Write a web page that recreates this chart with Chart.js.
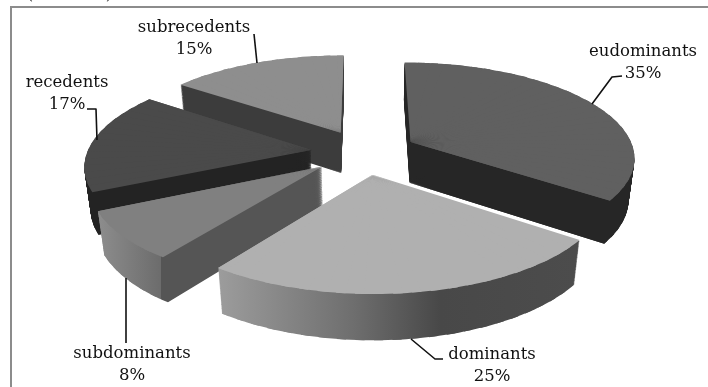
<!DOCTYPE html>
<html>
<head>
<meta charset="utf-8">
<title>Dominance classes</title>
<script src="https://cdn.jsdelivr.net/npm/chart.js@4/dist/chart.umd.min.js"></script>
<style>
  html, body { margin: 0; padding: 0; background: #fff; }
  canvas { display: block; }
</style>
</head>
<body>
<canvas id="pie" width="708" height="387"></canvas>
<script>
const categories = ["eudominants", "dominants", "subdominants", "recedents", "subrecedents"];
const shares = [35, 25, 8, 17, 15];

const topColors = ["#606060", "#b0b0b0", "#808080", "#4a4a4a", "#8e8e8e"];
// Side wall colours as [screen x, colour] stops, a repeated x gives a hard edge
const wallStops = [
  [[400, "#262626"], [640, "#262626"]],
  [[219, "#9c9c9c"], [354, "#6e6e6e"], [440, "#484848"], [575, "#4c4c4c"]],
  [[100, "#8c8c8c"], [161, "#6c6c6c"], [161, "#555555"], [325, "#555555"]],
  [[80, "#232323"], [320, "#232323"]],
  [[180, "#3c3c3c"], [350, "#3c3c3c"]],
];

// Label placement: text centre, then the leader line
const labelPos = [
  { x: 643, y: 52, line: [[622, 76], [612, 77], [592, 104]] },
  { x: 492, y: 355, line: [[443, 359], [435, 359], [411, 339]] },
  { x: 132, y: 354, line: [[126, 343], [126, 278]] },
  { x: 67, y: 83, line: [[87, 109], [96, 109], [97, 140]] },
  { x: 194, y: 28, line: [[254, 34], [257, 63]] },
];

// Camera for the tilted pie
const view = { cx: 364, cy: 152, tilt: 0.42, persp: 0.00066, depth: 42, sink: 0.022 };
const LAYERS = 48;
const FAN_STEP = Math.PI / 45;

// t = 0 is the top face, t = 1 the bottom of the slab
function project(px, py, ox, oy, t) {
  const u = px - ox;
  const v = py - oy;
  const w = 1 - view.persp * v + view.sink * t;
  return { x: view.cx + u / w, y: view.cy + (view.tilt * v + view.depth * t) / w };
}

// Canvas has no perspective transform, so each slice is drawn as a fan of
// thin wedges and every wedge gets its own affine from three projected points
function wedgeMatrix(arc, ax, ay, a0, a1, t) {
  const r = arc.outerRadius;
  const e1x = Math.cos(a0) * r, e1y = Math.sin(a0) * r;
  const e2x = Math.cos(a1) * r, e2y = Math.sin(a1) * r;
  const pA = project(ax, ay, arc.x, arc.y, t);
  const pS = project(ax + e1x, ay + e1y, arc.x, arc.y, t);
  const pE = project(ax + e2x, ay + e2y, arc.x, arc.y, t);
  const f1x = pS.x - pA.x, f1y = pS.y - pA.y;
  const f2x = pE.x - pA.x, f2y = pE.y - pA.y;
  const det = e1x * e2y - e2x * e1y;
  const a = (f1x * e2y - f2x * e1y) / det;
  const c = (f2x * e1x - f1x * e2x) / det;
  const b = (f1y * e2y - f2y * e1y) / det;
  const d = (f2y * e1x - f1y * e2x) / det;
  return { a, b, c, d, e: pA.x - a * ax - c * ay, f: pA.y - b * ax - d * ay };
}

// Horizontal screen gradient expressed in the wedge's own plane
function wallGradient(ctx, m, stops) {
  const n = m.a * m.a + m.c * m.c;
  const x0 = stops[0][0];
  const x1 = stops[stops.length - 1][0];
  const g = ctx.createLinearGradient(
    (x0 - m.e) * m.a / n, (x0 - m.e) * m.c / n,
    (x1 - m.e) * m.a / n, (x1 - m.e) * m.c / n
  );
  stops.forEach(([x, color]) => g.addColorStop((x - x0) / (x1 - x0), color));
  return g;
}

// Draws one level of the slab through the arc element itself.
// stops is null for the flat top face.
function paintLevel(ctx, arc, t, flat, stops) {
  const off = arc.options.offset / 4;
  const mid = (arc.startAngle + arc.endAngle) / 2;
  const ax = arc.x + Math.cos(mid) * off;
  const ay = arc.y + Math.sin(mid) * off;
  for (let a0 = arc.startAngle; a0 < arc.endAngle - 1e-6; a0 += FAN_STEP) {
    const a1 = Math.min(a0 + FAN_STEP, arc.endAngle);
    const m = wedgeMatrix(arc, ax, ay, a0, a1, t);
    // each wedge runs on under the next one so no seams show
    const end = Math.min(a1 + FAN_STEP / 2, arc.endAngle);
    const el = Object.create(arc);
    el.x = ax;
    el.y = ay;
    el.startAngle = a0;
    el.endAngle = end;
    el.circumference = end - a0;
    el.options = Object.assign({}, arc.options, {
      offset: 0,
      borderWidth: 0,
      backgroundColor: stops ? wallGradient(ctx, m, stops) : flat,
    });
    ctx.save();
    ctx.transform(m.a, m.b, m.c, m.d, m.e, m.f);
    el.draw(ctx);
    ctx.restore();
  }
}

const slabPie = {
  id: "slabPie",
  beforeDraw(chart) {
    const ctx = chart.ctx;
    ctx.save();
    // Frame: only the top and left sides are in view
    ctx.strokeStyle = "#8c8c8c";
    ctx.lineWidth = 2;
    ctx.beginPath();
    ctx.moveTo(708, 7);
    ctx.lineTo(11, 7);
    ctx.lineTo(11, 387);
    ctx.stroke();
    // Brackets of the caption line above the frame, cut off by the page edge
    ctx.fillStyle = "#333";
    ctx.font = '16.5px "DejaVu Serif"';
    ctx.textAlign = "center";
    ctx.textBaseline = "alphabetic";
    ctx.fillText("(", 30, -1);
    ctx.fillText(")", 109, -1);
    ctx.restore();
  },
  beforeDatasetsDraw(chart) {
    const ctx = chart.ctx;
    const arcs = chart.getDatasetMeta(0).data;
    // Paint back to front
    const order = arcs.map((arc, i) => i).sort((p, q) => {
      const mp = (arcs[p].startAngle + arcs[p].endAngle) / 2;
      const mq = (arcs[q].startAngle + arcs[q].endAngle) / 2;
      return Math.sin(mp) - Math.sin(mq);
    });
    order.forEach((i) => {
      for (let l = LAYERS; l > 0; l--) {
        paintLevel(ctx, arcs[i], l / LAYERS, null, wallStops[i]);
      }
      paintLevel(ctx, arcs[i], 0, topColors[i], null);
    });
    return false;
  },
  afterDraw(chart) {
    const ctx = chart.ctx;
    ctx.save();
    ctx.strokeStyle = "#111";
    ctx.lineWidth = 1.6;
    ctx.lineJoin = "round";
    labelPos.forEach((pos, i) => {
      ctx.beginPath();
      pos.line.forEach(([x, y], k) => (k ? ctx.lineTo(x, y) : ctx.moveTo(x, y)));
      ctx.stroke();
      ctx.fillStyle = "#111";
      ctx.font = '16.5px "DejaVu Serif"';
      ctx.textAlign = "center";
      ctx.textBaseline = "middle";
      ctx.fillText(categories[i], pos.x, pos.y);
      ctx.fillText(shares[i] + "%", pos.x, pos.y + 22);
    });
    ctx.restore();
  },
};

new Chart(document.getElementById("pie"), {
  type: "pie",
  data: {
    labels: categories,
    datasets: [{
      data: shares,
      backgroundColor: topColors,
      borderWidth: 0,
      offset: 212,
    }],
  },
  options: {
    responsive: false,
    animation: false,
    radius: 224,
    layout: { padding: 0 },
    events: [],
    plugins: { legend: { display: false }, tooltip: { enabled: false } },
  },
  plugins: [slabPie],
});
</script>
</body>
</html>
